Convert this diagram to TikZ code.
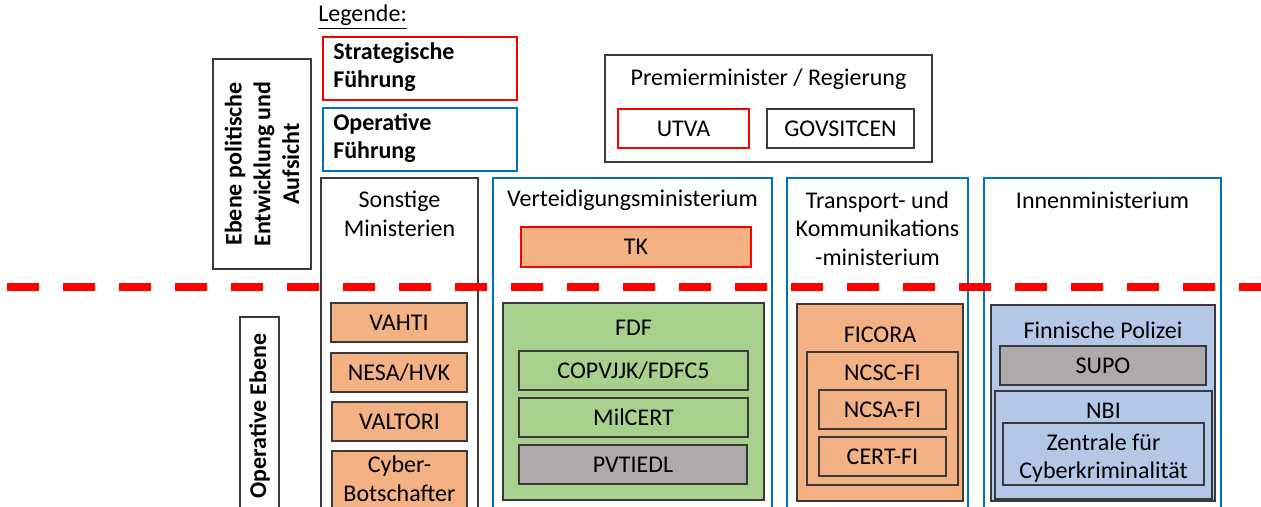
\documentclass[tikz,border=0pt]{standalone}
\usepackage{fontspec}
\setmainfont{Carlito}
\usetikzlibrary{fit}

\definecolor{fuehrungrot}{HTML}{FF0000}
\definecolor{fuehrungblau}{HTML}{0070C0}
\definecolor{rahmengrau}{HTML}{3A3A3A}
\definecolor{orangefill}{HTML}{F4B183}
\definecolor{gruenfill}{HTML}{A9D18E}
\definecolor{graufill}{HTML}{AEAAAA}
\definecolor{blaufill}{HTML}{B4C7E7}

\tikzset{
  txt/.style={font=\fontsize{18}{21.5}\selectfont, align=center, inner sep=0pt},
  frame/.style={draw=rahmengrau, line width=0.9pt, inner sep=0pt},
  strat/.style={draw=fuehrungrot, line width=1.7pt, inner sep=0pt},
  oper/.style={draw=fuehrungblau, line width=1.7pt, inner sep=0pt},
  orangebox/.style={frame, fill=orangefill},
  gruenbox/.style={frame, fill=gruenfill},
  graubox/.style={frame, fill=graufill},
  blaubox/.style={frame, fill=blaufill},
}

\begin{document}
\begin{tikzpicture}[x=0.75pt, y=-0.75pt]
  \useasboundingbox (0,0) rectangle (1261,507);

  % Legende
  \node[txt, anchor=west] (legende) at (318,17) {\underline{Legende:}};
  \node[strat, fit={(323,37) (517,100)}] (strat) {};
  \node[txt, anchor=west, align=left, font=\fontsize{18}{21.5}\bfseries] (strattext) at (333,67) {Strategische\\Führung};
  \node[oper, fit={(323,108) (517,171)}] (oper) {};
  \node[txt, anchor=west, align=left, font=\fontsize{18}{21.5}\bfseries] (opertext) at (333,138) {Operative\\Führung};

  % Ebenen
  \node[frame, fit={(213,59) (311,269)}] (ebenepol) {};
  \node[txt, rotate=90, font=\fontsize{18}{21.5}\bfseries] (ebenepoltext) at (ebenepol.center) {Ebene politische\\Entwicklung und\\Aufsicht};
  \node[frame, fit={(240,317) (279,520)}] (ebeneop) {};
  \node[txt, rotate=90, anchor=west, font=\fontsize{18}{21.5}\bfseries] (ebeneoptext) at (259.5,499) {Operative Ebene};

  % Regierung
  \node[frame, fit={(605,55) (932,162)}] (regierung) {};
  \node[txt] (regierungtext) at (768.5,79) {Premierminister / Regierung};
  \node[strat, fit={(618,109) (749,148)}, label={[txt]center:UTVA}] (utva) {};
  \node[frame, fit={(767,109) (914,148)}, label={[txt]center:GOVSITCEN}] (govsitcen) {};

  % Ministerien
  \node[frame, fit={(321,178) (478,520)}] (sonstige) {};
  \node[txt] (sonstigetext) at (399.5,214) {Sonstige\\Ministerien};
  \node[oper, fit={(493,178) (772,520)}] (verteid) {};
  \node[txt] (verteidtext) at (632.5,200) {Verteidigungsministerium};
  \node[oper, fit={(787,178) (968,520)}] (transport) {};
  \node[txt] (transporttext) at (877.5,228.5) {Transport- und\\Kommunikations\\-ministerium};
  \node[oper, fit={(984,178) (1221,520)}] (innen) {};
  \node[txt] (innentext) at (1102.5,200) {Innenministerium};

  \node[strat, fill=orangefill, fit={(521,227) (751,267)}, label={[txt]center:TK}] (tk) {};

  % Grenze strategisch / operativ
  \draw[fuehrungrot, line width=6pt, dash pattern=on 24pt off 18pt] (7,287) -- (1261,287);

  % Sonstige Ministerien
  \node[orangebox, fit={(331,303) (467,342)}, label={[txt]center:VAHTI}] (vahti) {};
  \node[orangebox, fit={(331,353) (467,392)}, label={[txt]center:NESA/HVK}] (nesa) {};
  \node[orangebox, fit={(332,402) (467,441)}, label={[txt]center:VALTORI}] (valtori) {};
  \node[orangebox, fit={(332,451) (467,509)}] (cyberbot) {};
  \node[txt] (cyberbottext) at (399.5,478.5) {Cyber-\\Botschafter};

  % Verteidigung
  \node[gruenbox, fit={(503,303) (764,500)}] (fdf) {};
  \node[txt] (fdftext) at (633.5,328) {FDF};
  \node[gruenbox, fit={(519,351) (748,390)}, label={[txt]center:COPVJJK/FDFC5}] (copvjjk) {};
  \node[gruenbox, fit={(519,398) (748,437)}, label={[txt]center:MilCERT}] (milcert) {};
  \node[graubox, fit={(519,445) (747,484)}, label={[txt]center:PVTIEDL}] (pvtiedl) {};

  % Transport und Kommunikation
  \node[orangebox, fit={(797,304) (963,501)}] (ficora) {};
  \node[txt] (ficoratext) at (880,335) {FICORA};
  \node[orangebox, fit={(807,352) (958,485)}] (ncsc) {};
  \node[txt] (ncsctext) at (882.5,373) {NCSC-FI};
  \node[orangebox, fit={(819,390) (946,429)}, label={[txt]center:NCSA-FI}] (ncsa) {};
  \node[orangebox, fit={(819,437) (946,476)}, label={[txt]center:CERT-FI}] (certfi) {};

  % Inneres
  \node[blaubox, fit={(991,305) (1215,501)}] (polizei) {};
  \node[txt] (polizeitext) at (1103,330) {Finnische Polizei};
  \node[graubox, fit={(1000,346) (1206,385)}, label={[txt]center:SUPO}] (supo) {};
  \node[blaubox, fit={(995,391) (1212,499)}] (nbi) {};
  \node[txt] (nbitext) at (1103.5,411) {NBI};
  \node[blaubox, fit={(1003,423) (1204,485)}, label={[txt, yshift=-3pt]center:{Zentrale für\\Cyberkriminalität}}] (zentrale) {};
\end{tikzpicture}
\end{document}
